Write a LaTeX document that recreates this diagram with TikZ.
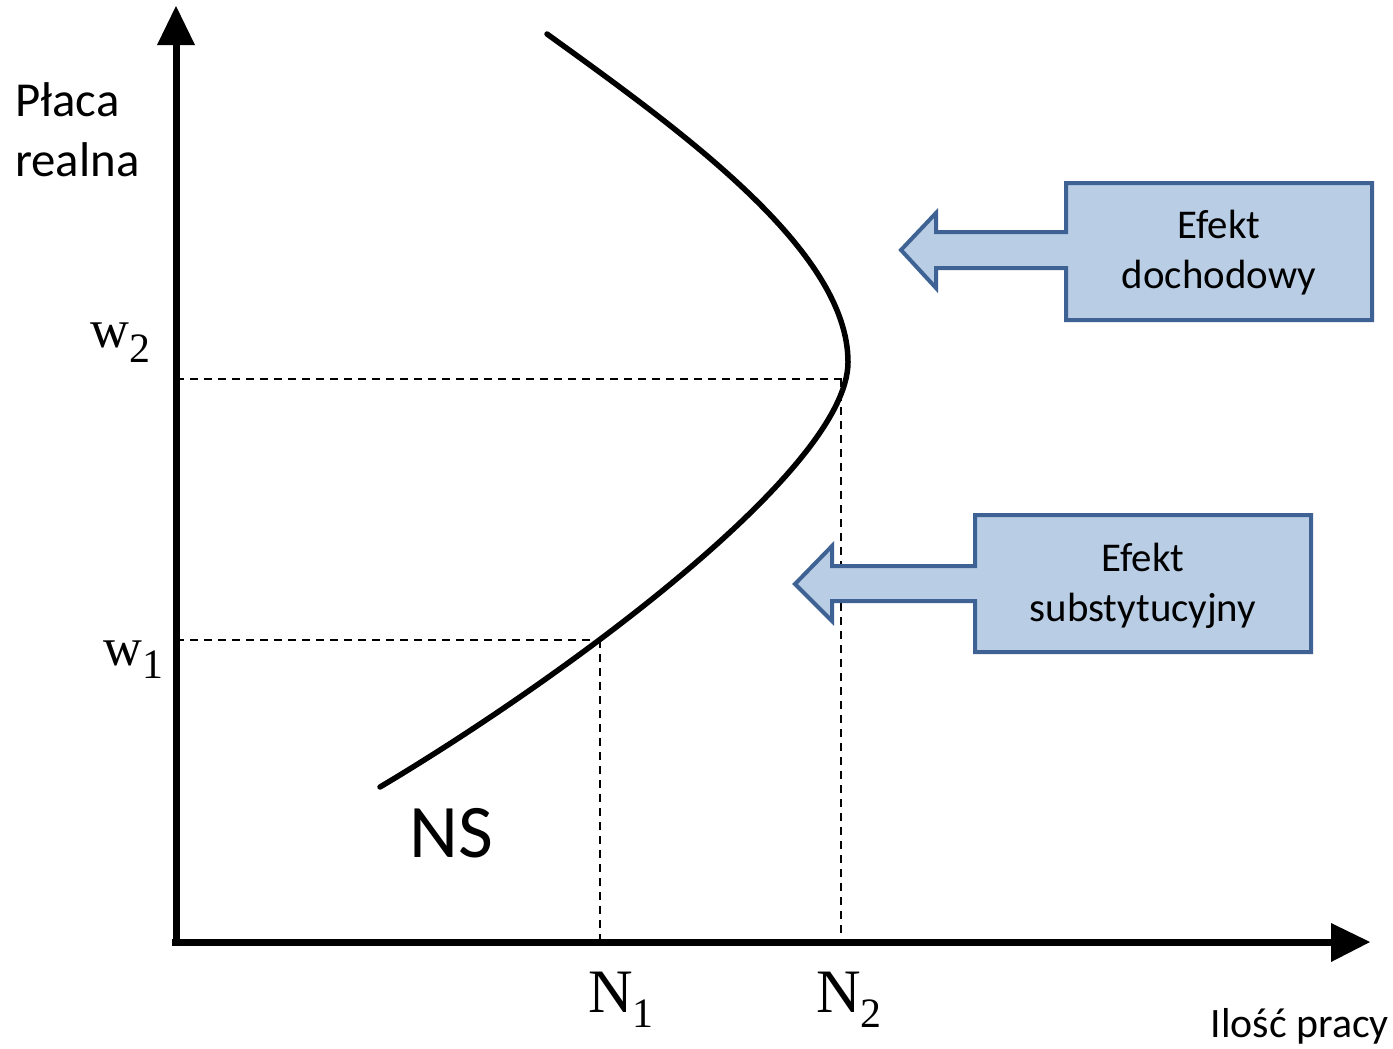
\documentclass[tikz,border=0pt]{standalone}
\usepackage{fontspec}
\setmainfont{Carlito}
\newfontfamily\tnr{Liberation Serif}
\begin{document}
\begin{tikzpicture}[x={(1bp,0)},y={(0,-1bp)},
  axis/.style={line width=7bp},
  tipfill/.style={fill=black},
  guide/.style={line width=1.5bp,dash pattern=on 8bp off 6bp},
  supply/.style={line width=5.5bp,line cap=round},
  effect/.style={draw=effborder,fill=efffill,line width=4bp,line join=miter},
  efftext/.style={font=\fontsize{41}{50}\selectfont,align=center},
  sans/.style 2 args={font=\fontsize{#1}{#2}\selectfont}]
\definecolor{efffill}{HTML}{B9CDE5}
\definecolor{effborder}{HTML}{3E6293}
\useasboundingbox (0,0) rectangle (1393,1048);

% axes
\coordinate (O) at (176,942);
\coordinate (ytop) at (176,45);
\coordinate (xend) at (1331,942);
\draw[axis] (176,946) -- (ytop);
\draw[axis] (172,942) -- (xend);
\fill[tipfill] (157,45) -- (176,6) -- (195,45) -- cycle;
\fill[tipfill] (1331,923) -- (1370,942) -- (1331,962) -- cycle;

% guide lines
\coordinate (w2) at (176,379);
\coordinate (p2) at (847,379);
\coordinate (n2top) at (841,379);
\coordinate (n2) at (841,942);
\coordinate (w1) at (176,640);
\coordinate (p1) at (600,640);
\coordinate (n1) at (600,942);
\draw[guide] (w2) -- (p2);
\draw[guide] (n2top) -- (n2);
\draw[guide] (w1) -- (p1);
\draw[guide] (p1) -- (n1);

% backward-bending labour supply curve
\coordinate (nsbot) at (380,787);
\coordinate (nose) at (848,362);
\coordinate (nstop) at (547,34);
\draw[supply] (nsbot) .. controls (560,680) and (848,470) .. (nose)
  .. controls (848,250) and (680,130) .. (nstop);

% axis labels
\node[sans={49}{60},anchor=base west,inner sep=0pt,align=left] (ylab) at (15,176) {Płaca\\realna};
\node[sans={42}{50},anchor=base east,inner sep=0pt] (xlab) at (1389,1037) {Ilość pracy};
\node[sans={76}{90},anchor=base west,inner sep=0pt] (ns) at (409,857) {NS};

% tick labels
\node[anchor=base west,inner sep=0pt] (lw2) at (90,347)
  {\tnr\fontsize{54}{54}\selectfont w\raisebox{-15bp}{\fontsize{42}{42}\selectfont 2}};
\node[anchor=base west,inner sep=0pt] (lw1) at (103,665)
  {\tnr\fontsize{54}{54}\selectfont w\raisebox{-13bp}{\fontsize{42}{42}\selectfont 1}};
\node[anchor=base west,inner sep=0pt] (ln1) at (588,1012)
  {\tnr\fontsize{62}{62}\selectfont N\raisebox{-15bp}{\fontsize{42}{42}\selectfont 1}};
\node[anchor=base west,inner sep=0pt] (ln2) at (816,1012)
  {\tnr\fontsize{62}{62}\selectfont N\raisebox{-15bp}{\fontsize{42}{42}\selectfont 2}};

% income effect
\draw[effect] (1066,183) -- (1372,183) -- (1372,320) -- (1066,320) -- (1066,268)
  -- (936,268) -- (936,288) -- (901,250) -- (936,213) -- (936,232) -- (1066,232) -- cycle;
\node[efftext] (inc) at (1219,253) {Efekt\\dochodowy};

% substitution effect
\draw[effect] (975,515) -- (1311,515) -- (1311,652) -- (975,652) -- (975,601)
  -- (832,601) -- (832,621) -- (795,584) -- (832,546) -- (832,566) -- (975,566) -- cycle;
\node[efftext] (sub) at (1143,586) {Efekt\\substytucyjny};
\end{tikzpicture}
\end{document}
